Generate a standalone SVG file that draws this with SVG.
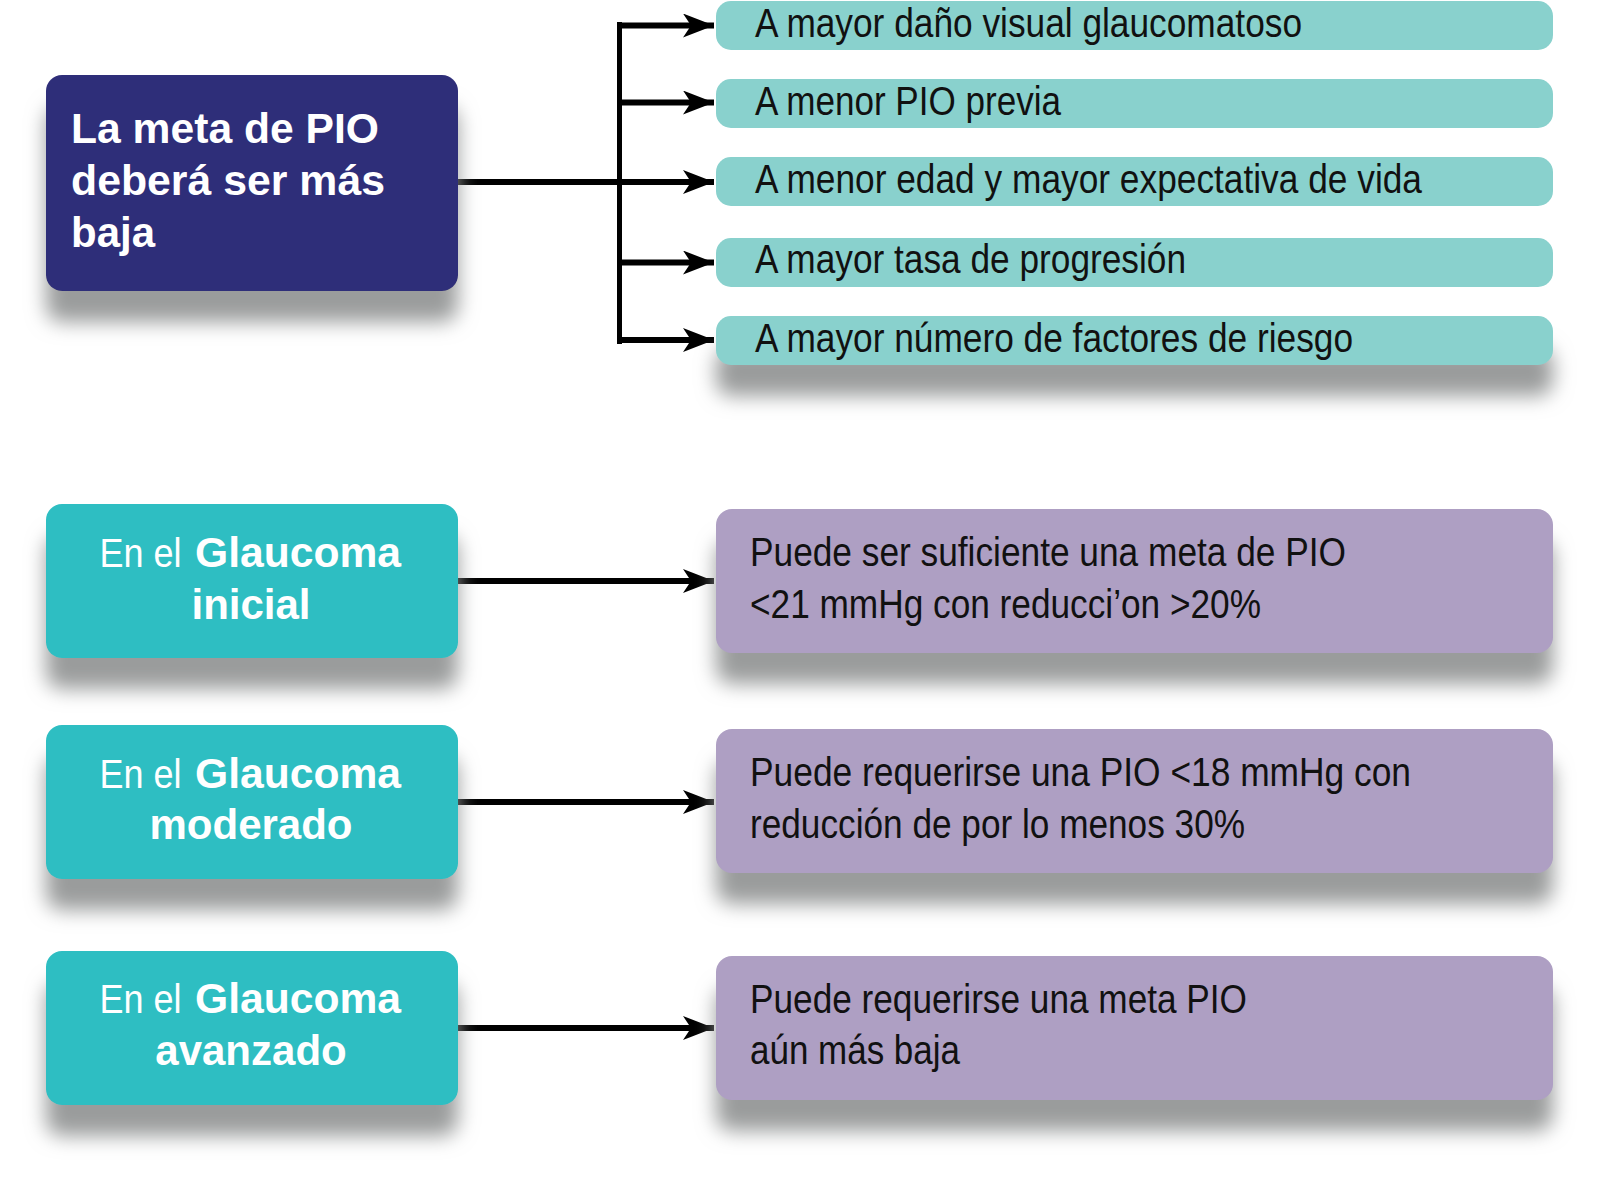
<svg xmlns="http://www.w3.org/2000/svg" width="1600" height="1198" viewBox="0 0 1600 1198">
<style>
.dark{fill:#2f2e79}
.head{fill:#2dbec2}
.item{fill:#89d1cd}
.purp{fill:#ae9fc3}
.wb{font-family:"Liberation Sans",Arial,sans-serif;font-weight:bold;font-size:42px;fill:#ffffff}
.wr{font-family:"Liberation Sans",Arial,sans-serif;font-size:41px;fill:#ffffff}
.it{font-family:"Liberation Sans",Arial,sans-serif;font-size:40px;fill:#111111}
.pt{font-family:"Liberation Sans",Arial,sans-serif;font-size:40px;fill:#111111}
.ln{stroke:#000;stroke-width:6;fill:none}
.bar{stroke:#000;stroke-width:5;fill:none}
</style>
<defs>
<filter id="sh" x="-10%" y="-60%" width="120%" height="340%">
<feGaussianBlur in="SourceAlpha" stdDeviation="10"/>
<feOffset dy="31" result="b"/>
<feFlood flood-color="#9a9c9c"/>
<feComposite in2="b" operator="in"/>
<feMerge><feMergeNode/><feMergeNode in="SourceGraphic"/></feMerge>
</filter>
<marker id="ah" markerUnits="userSpaceOnUse" markerWidth="32" markerHeight="24" refX="31" refY="12" orient="auto" viewBox="0 0 32 24">
<path d="M0,0 L31,12 L0,24 L8,12 Z" fill="#000"/>
</marker>
</defs>
<rect width="1600" height="1198" fill="#ffffff"/>

<g id="connectors">
<line class="bar" x1="619.5" y1="22" x2="619.5" y2="344"/>
<line class="ln" x1="458" y1="182" x2="714" y2="182" marker-end="url(#ah)"/>
<line class="ln" x1="617" y1="25.5" x2="714" y2="25.5" marker-end="url(#ah)"/>
<line class="ln" x1="617" y1="102.5" x2="714" y2="102.5" marker-end="url(#ah)"/>
<line class="ln" x1="617" y1="262.5" x2="714" y2="262.5" marker-end="url(#ah)"/>
<line class="ln" x1="617" y1="340" x2="714" y2="340" marker-end="url(#ah)"/>
<line class="ln" x1="458" y1="581" x2="714" y2="581" marker-end="url(#ah)"/>
<line class="ln" x1="458" y1="802" x2="714" y2="802" marker-end="url(#ah)"/>
<line class="ln" x1="458" y1="1028" x2="714" y2="1028" marker-end="url(#ah)"/>
</g>

<g id="node-main">
<rect class="dark" x="46" y="75" width="412" height="216" rx="16" filter="url(#sh)"/>
<text class="wb" x="71" y="143" textLength="308" lengthAdjust="spacingAndGlyphs">La meta de PIO</text>
<text class="wb" x="71" y="195" textLength="314" lengthAdjust="spacingAndGlyphs">deberá ser más</text>
<text class="wb" x="71" y="247" textLength="84" lengthAdjust="spacingAndGlyphs">baja</text>
</g>

<g id="node-item1">
<rect class="item" x="716" y="1" width="837" height="49" rx="15"/>
<text class="it" x="755" y="37" textLength="547" lengthAdjust="spacingAndGlyphs">A mayor daño visual glaucomatoso</text>
</g>
<g id="node-item2">
<rect class="item" x="716" y="79" width="837" height="49" rx="15"/>
<text class="it" x="755" y="115" textLength="306" lengthAdjust="spacingAndGlyphs">A menor PIO previa</text>
</g>
<g id="node-item3">
<rect class="item" x="716" y="157" width="837" height="49" rx="15"/>
<text class="it" x="755" y="193" textLength="667" lengthAdjust="spacingAndGlyphs">A menor edad y mayor expectativa de vida</text>
</g>
<g id="node-item4">
<rect class="item" x="716" y="238" width="837" height="49" rx="15"/>
<text class="it" x="755" y="273" textLength="431" lengthAdjust="spacingAndGlyphs">A mayor tasa de progresión</text>
</g>
<g id="node-item5">
<rect class="item" x="716" y="316" width="837" height="49" rx="15" filter="url(#sh)"/>
<text class="it" x="755" y="352" textLength="598" lengthAdjust="spacingAndGlyphs">A mayor número de factores de riesgo</text>
</g>

<g id="node-inicial">
<rect class="head" x="46" y="504" width="412" height="154" rx="16" filter="url(#sh)"/>
<text x="99.5" y="567"><tspan class="wr" textLength="82" lengthAdjust="spacingAndGlyphs">En el</tspan><tspan class="wb" x="195" textLength="206" lengthAdjust="spacingAndGlyphs">Glaucoma</tspan></text>
<text class="wb" x="251" y="619" text-anchor="middle">inicial</text>
</g>
<g id="node-moderado">
<rect class="head" x="46" y="725" width="412" height="154" rx="16" filter="url(#sh)"/>
<text x="99.5" y="788"><tspan class="wr" textLength="82" lengthAdjust="spacingAndGlyphs">En el</tspan><tspan class="wb" x="195" textLength="206" lengthAdjust="spacingAndGlyphs">Glaucoma</tspan></text>
<text class="wb" x="251" y="839" text-anchor="middle">moderado</text>
</g>
<g id="node-avanzado">
<rect class="head" x="46" y="951" width="412" height="154" rx="16" filter="url(#sh)"/>
<text x="99.5" y="1013"><tspan class="wr" textLength="82" lengthAdjust="spacingAndGlyphs">En el</tspan><tspan class="wb" x="195" textLength="206" lengthAdjust="spacingAndGlyphs">Glaucoma</tspan></text>
<text class="wb" x="251" y="1065" text-anchor="middle">avanzado</text>
</g>

<g id="node-p1">
<rect class="purp" x="716" y="509" width="837" height="144" rx="16" filter="url(#sh)"/>
<text class="pt" x="750" y="566" textLength="596" lengthAdjust="spacingAndGlyphs">Puede ser suficiente una meta de PIO</text>
<text class="pt" x="750" y="618" textLength="511" lengthAdjust="spacingAndGlyphs">&lt;21 mmHg con reducci’on &gt;20%</text>
</g>
<g id="node-p2">
<rect class="purp" x="716" y="729" width="837" height="144" rx="16" filter="url(#sh)"/>
<text class="pt" x="750" y="786" textLength="661" lengthAdjust="spacingAndGlyphs">Puede requerirse una PIO &lt;18 mmHg con</text>
<text class="pt" x="750" y="838" textLength="495" lengthAdjust="spacingAndGlyphs">reducción de por lo menos 30%</text>
</g>
<g id="node-p3">
<rect class="purp" x="716" y="956" width="837" height="144" rx="16" filter="url(#sh)"/>
<text class="pt" x="750" y="1013" textLength="497" lengthAdjust="spacingAndGlyphs">Puede requerirse una meta PIO</text>
<text class="pt" x="750" y="1064" textLength="210" lengthAdjust="spacingAndGlyphs">aún más baja</text>
</g>
</svg>
